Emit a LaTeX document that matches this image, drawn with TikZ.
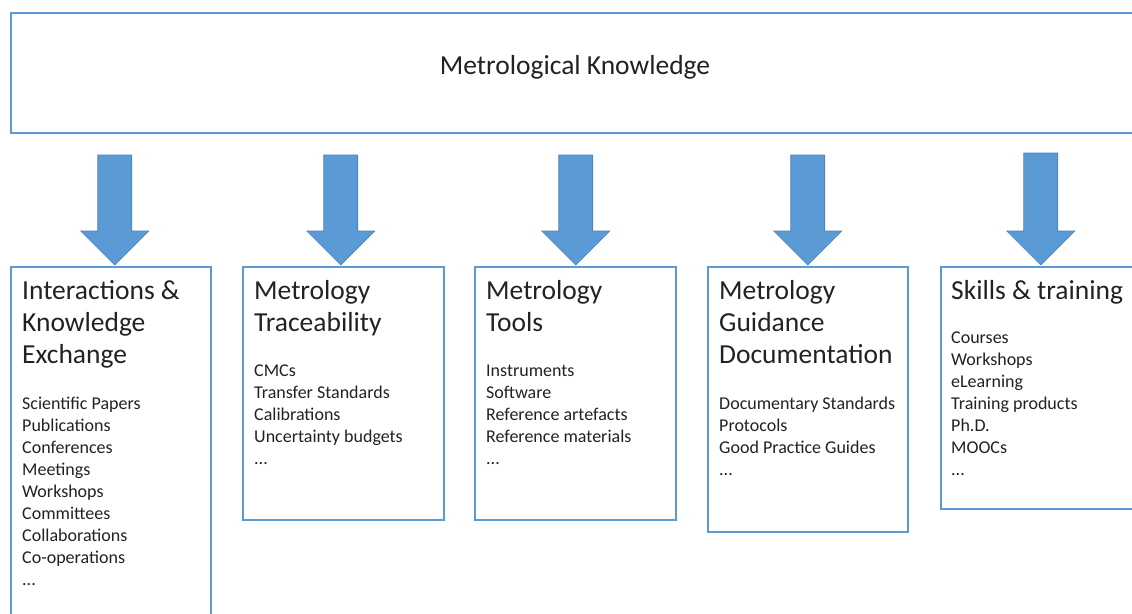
\documentclass[tikz,border=0pt]{standalone}
\usepackage{fontspec}
\setmainfont{Carlito}
\usetikzlibrary{calc}
\definecolor{boxblue}{HTML}{5B9BD5}
\definecolor{arrowfill}{HTML}{5B9BD5}
\definecolor{arrowedge}{HTML}{4A7FB5}
\definecolor{txt}{HTML}{222222}
\tikzset{
  panel/.style={draw=boxblue, line width=1.5pt, anchor=north west, inner sep=0pt, fill=white},
  headtxt/.style={anchor=north west, inner sep=0pt, align=left, text=txt, font=\fontsize{27.5}{32}\selectfont},
  bodytxt/.style={anchor=north west, inner sep=0pt, align=left, text=txt, font=\fontsize{18}{22}\selectfont},
  blockarrow/.style={fill=arrowfill, draw=arrowedge, line width=0.6pt, line join=miter}
}
\newcommand\arrowto[3]{% #1 target node, #2 dx, #3 top offset (negative)
  \draw[blockarrow] ($(#1.north)+(#2-17,#3)$) -- ($(#1.north)+(#2+17,#3)$) -- ($(#1.north)+(#2+17,-35)$) -- ($(#1.north)+(#2+34,-35)$) -- ($(#1.north)+(#2,-1)$) -- ($(#1.north)+(#2-34,-35)$) -- ($(#1.north)+(#2-17,-35)$) -- cycle;
}
\begin{document}
\begin{tikzpicture}[x=1pt,y=-1pt]
\useasboundingbox (0,0) rectangle (1132,613);
\clip (0,0) rectangle (1132,613);
\fill[white] (0,0) rectangle (1132,613);
% top box
\node[panel, minimum width=1130, minimum height=120] (top) at (10,12) {};
\node[text=txt, font=\fontsize{27.5}{32}\selectfont, inner sep=0pt] (title) at (575,67) {Metrological Knowledge};
% panels
\node[panel, minimum width=200, minimum height=360] (b1) at (10,266) {};
\node[panel, minimum width=201, minimum height=253] (b2) at (242,266) {};
\node[panel, minimum width=201, minimum height=253] (b3) at (474,266) {};
\node[panel, minimum width=200, minimum height=265] (b4) at (707,266) {};
\node[panel, minimum width=200, minimum height=242] (b5) at (940,266) {};
% headings (first baseline at 299)
\node[headtxt] (h1) at (22,276.6) {\strut Interactions \&\\Knowledge\\Exchange};
\node[headtxt] (h2) at (254,276.6) {\strut Metrology\\Traceability};
\node[headtxt] (h3) at (486,276.6) {\strut Metrology\\Tools};
\node[headtxt] (h4) at (719,276.6) {\strut Metrology\\Guidance\\Documentation};
\node[headtxt] (h5) at (951,276.6) {\strut Skills \& training};
% bodies
\node[bodytxt] (t1) at (22,393.4) {\strut Scientific Papers\\Publications\\Conferences\\Meetings\\Workshops\\Committees\\Collaborations\\Co-operations\\...};
\node[bodytxt] (t2) at (254,360.4) {\strut CMCs\\Transfer Standards\\Calibrations\\Uncertainty budgets\\...};
\node[bodytxt] (t3) at (486,360.4) {\strut Instruments\\Software\\Reference artefacts\\Reference materials\\...};
\node[bodytxt] (t4) at (719,393.4) {\strut Documentary Standards\\Protocols\\Good Practice Guides\\...};
\node[bodytxt] (t5) at (951,327.4) {\strut Courses\\Workshops\\eLearning\\Training products\\Ph.D.\\MOOCs\\...};
% arrows
\arrowto{b1}{4}{-111}
\arrowto{b2}{-2.5}{-111}
\arrowto{b3}{0.5}{-111}
\arrowto{b4}{0}{-111}
\arrowto{b5}{0}{-113}
\end{tikzpicture}
\end{document}
